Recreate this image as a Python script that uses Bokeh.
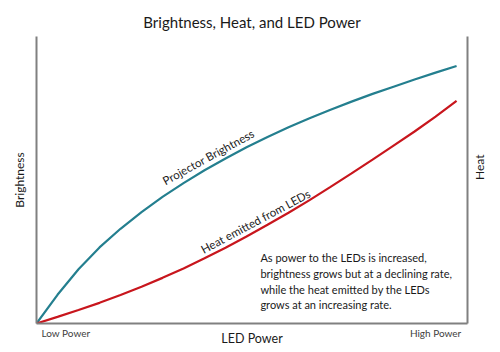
import math
from bokeh.plotting import figure
from bokeh.models import Range1d, LinearAxis, FixedTicker
from bokeh.core.properties import value
from bokeh.embed import file_html
from bokeh.resources import INLINE

# ---- data ----
power = [0, 5, 10, 15, 20, 25, 30, 35, 40, 45, 50, 55, 60, 65, 70, 75, 80, 85, 90, 95, 100]
brightness = [0, 10.0, 18.9, 26.5, 33.0, 38.8, 44.1, 48.9, 53.4, 57.5, 61.4,
              65.0, 68.4, 71.5, 74.5, 77.3, 80.0, 82.5, 85.0, 87.4, 89.7]
heat = [0, 2.3, 4.7, 7.2, 9.9, 12.8, 15.9, 19.2, 22.7, 26.4, 30.3,
        34.4, 38.6, 43.0, 47.6, 52.3, 57.1, 62.0, 66.9, 72.1, 77.6]

tick_positions = [7, 95]
tick_labels = ["Low Power", "High Power"]

note_lines = [
    "As power to the LEDs is increased,",
    "brightness grows but at a declining rate,",
    "while the heat emitted by the LEDs",
    "grows at an increasing rate.",
]
note_x = [53.3, 53.3, 53.3, 53.3]
note_y = [23.0, 17.4, 11.8, 6.6]

FONT = "Lato"
AXIS_COLOR = "#808080"
TEAL = "#247f8f"
RED = "#c8161d"
TEXT = "#1a1a1a"

p = figure(width=500, height=352, output_backend="svg", toolbar_location=None,
           x_range=Range1d(0, 102.6), y_range=Range1d(0, 100),
           min_border_left=36, min_border_right=33, min_border_top=36,
           min_border_bottom=29)
p.outline_line_color = None
p.grid.visible = False
p.background_fill_color = "white"
p.border_fill_color = "white"

p.title.text = "Brightness, Heat, and LED Power"
p.title.align = "center"
p.title.vertical_align = "middle"
p.title.offset = -8
p.title.standoff = 10
p.title.text_font = FONT
p.title.text_font_style = "normal"
p.title.text_font_size = "15px"
p.title.text_color = TEXT

# bottom axis
xa = p.xaxis[0]
xa.ticker = FixedTicker(ticks=tick_positions)
xa.major_label_overrides = {t: l for t, l in zip(tick_positions, tick_labels)}
xa.major_tick_line_color = None
xa.minor_tick_line_color = None
xa.major_tick_out = 0
xa.major_tick_in = 0
xa.minor_tick_out = 0
xa.minor_tick_in = 0
xa.axis_line_color = AXIS_COLOR
xa.axis_line_width = 2
xa.major_label_text_font = FONT
xa.major_label_text_font_size = "10px"
xa.major_label_text_color = "#404040"
xa.major_label_standoff = 3
xa.axis_label = "LED Power"
xa.axis_label_text_font = FONT
xa.axis_label_text_font_style = "normal"
xa.axis_label_text_font_size = "12.5px"
xa.axis_label_text_color = TEXT
xa.axis_label_standoff = -11

# left axis
ya = p.yaxis[0]
ya.ticker = FixedTicker(ticks=[])
ya.major_tick_line_color = None
ya.minor_tick_line_color = None
ya.major_tick_out = 0
ya.major_tick_in = 0
ya.minor_tick_out = 0
ya.minor_tick_in = 0
ya.axis_line_color = AXIS_COLOR
ya.axis_line_width = 2
ya.major_label_standoff = 0
ya.axis_label = "Brightness"
ya.axis_label_text_font = FONT
ya.axis_label_text_font_style = "normal"
ya.axis_label_text_font_size = "12px"
ya.axis_label_text_color = TEXT
ya.axis_label_standoff = 10

# right axis
ra = LinearAxis(ticker=FixedTicker(ticks=[]), major_tick_line_color=None,
                minor_tick_line_color=None, major_tick_out=0, major_tick_in=0,
                minor_tick_out=0, minor_tick_in=0,
                axis_line_color=AXIS_COLOR, axis_line_width=2,
                major_label_standoff=0, axis_label="Heat",
                axis_label_text_font=FONT, axis_label_text_font_style="normal",
                axis_label_text_font_size="12px", axis_label_text_color=TEXT,
                axis_label_standoff=12)
try:
    ra.axis_label_orientation = math.pi / 2
except Exception:
    pass
p.add_layout(ra, "right")

# curves
p.line(power, brightness, line_color=TEAL, line_width=2.2)
p.line(power, heat, line_color=RED, line_width=2.2)

# curve labels
p.text(x=[30.2], y=[49.5], text=["Projector Brightness"], angle=0.5,
       text_align="left", text_baseline="alphabetic",
       text_font=value(FONT), text_font_size="11.5px", text_color=TEXT)
p.text(x=[39.3], y=[25.6], text=["Heat emitted from LEDs"], angle=0.49,
       text_align="left", text_baseline="alphabetic",
       text_font=value(FONT), text_font_size="11.5px", text_color=TEXT)

# note
p.text(x=note_x, y=note_y, text=note_lines, text_align="left",
       text_baseline="middle", text_font=value(FONT), text_font_size="11px",
       text_color=TEXT)

open("out.html", "w").write(file_html(p, INLINE))
